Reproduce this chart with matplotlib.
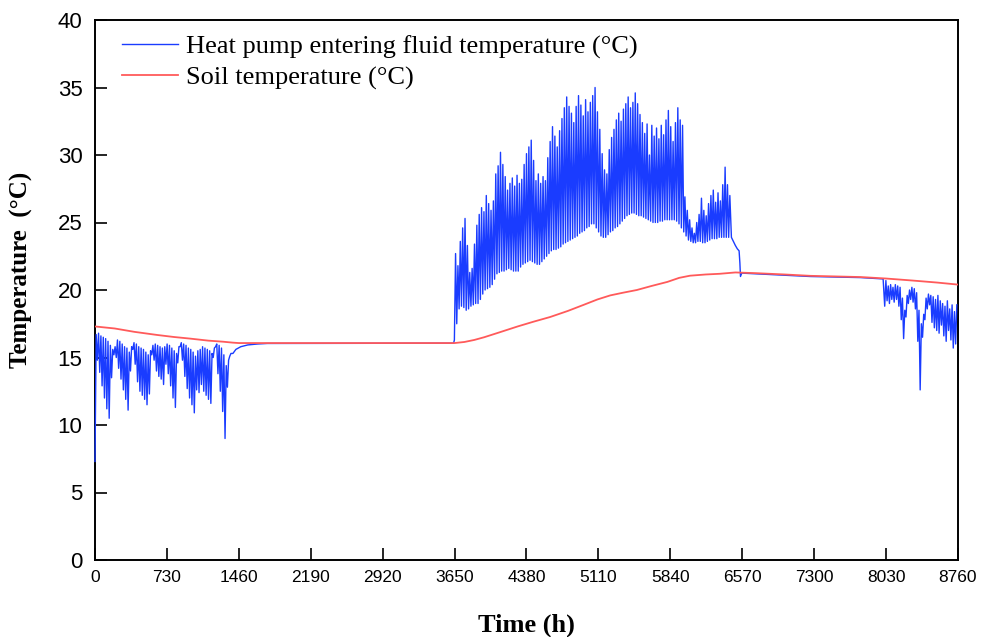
import numpy as np
import matplotlib
matplotlib.use('Agg')
import matplotlib.pyplot as plt
from matplotlib import font_manager

# soil temperature at selected hours of the year
soil_h = [0, 200, 400, 630, 800, 965, 1150, 1300, 1400, 1460, 3650, 3750, 3850,
          3950, 4100, 4290, 4450, 4620, 4800, 4960, 5100, 5230, 5360, 5500, 5650,
          5810, 5930, 6040, 6200, 6340, 6500, 6700, 7000, 7260, 7770, 8030, 8300,
          8550, 8760]
soil_t = [17.3, 17.15, 16.9, 16.67, 16.52, 16.4, 16.25, 16.17, 16.1, 16.07, 16.07, 16.15, 16.3,
          16.5, 16.85, 17.3, 17.65, 18.0, 18.45, 18.9, 19.3, 19.6, 19.8, 20.0, 20.3,
          20.6, 20.9, 21.06, 21.15, 21.2, 21.3, 21.25, 21.15, 21.05, 20.96, 20.85, 20.7,
          20.55, 20.4]

# heating season (from day 0): daily low / high of entering fluid temperature
heat_day0 = 0
heat_lo = [7.3, 14.8, 13.9, 12.9, 12.0, 11.2, 10.5, 13.5, 15.2, 15.0,
           14.2, 13.4, 12.6, 11.9, 11.1, 14.0, 15.6, 14.5, 13.2, 12.5,
           12.2, 11.9, 11.5, 12.3, 15.2, 14.8, 14.0, 13.6, 13.4, 13.0,
           14.5, 13.8, 12.9, 12.0, 11.3, 14.6, 15.8, 14.8, 13.6, 12.7,
           12.0, 11.5, 10.9, 12.6, 12.4, 13.0, 12.5, 12.2, 11.9, 11.6,
           15.0, 15.8, 13.8, 12.5, 11.0, 9.0, 12.8, 15.1]
heat_hi = [16.7, 16.8, 16.6, 16.5, 16.4, 16.2, 15.9, 15.6, 15.8, 16.3,
           16.2, 16.0, 15.8, 15.7, 15.4, 15.8, 16.1, 16.0, 15.8, 15.7,
           15.6, 15.4, 15.2, 15.5, 15.9, 16.0, 15.9, 15.8, 15.7, 15.8,
           16.0, 15.9, 15.7, 15.5, 15.3, 15.8, 16.1, 16.0, 15.9, 15.7,
           15.6, 15.4, 15.1, 15.5, 15.6, 15.8, 15.7, 15.6, 15.5, 15.3,
           15.7, 16.0, 15.9, 15.7, 15.2, 14.4, 14.8, 15.3]

# recovery after heating, idle until cooling starts
idle1_h = [1400, 1430, 1480, 1550, 1650, 1750, 3640]
idle1_t = [15.3, 15.6, 15.8, 15.93, 16.0, 16.04, 16.06]

# cooling season (from day 152): daily low / high
cool_day0 = 152
cool_lo = [16.3, 17.5, 18.6, 18.8, 18.7, 18.5, 18.6, 18.8, 18.9, 19.0,
           19.0, 19.3, 19.7, 20.0, 20.1, 20.2, 20.4, 20.8, 21.2, 21.3,
           21.4, 21.4, 21.5, 21.6, 21.5, 21.4, 21.4, 21.4, 21.7, 21.9,
           22.0, 22.1, 22.2, 22.1, 22.0, 21.9, 21.9, 22.1, 22.3, 22.5,
           22.7, 22.9, 23.0, 23.0, 23.1, 23.2, 23.4, 23.5, 23.6, 23.7,
           23.8, 23.9, 24.0, 24.2, 24.3, 24.4, 24.6, 24.7, 24.9, 24.9,
           24.6, 24.3, 24.0, 23.9, 23.9, 24.1, 24.3, 24.4, 24.6, 24.7,
           24.9, 25.1, 25.3, 25.5, 25.6, 25.7, 25.7, 25.6, 25.5, 25.5,
           25.4, 25.3, 25.2, 25.1, 25.0, 25.0, 25.0, 25.1, 25.1, 25.2,
           25.2, 25.2, 25.2, 25.2, 25.1, 24.9, 24.6, 24.3, 24.0, 23.7,
           23.6, 23.5, 23.5, 23.6, 23.6, 23.5, 23.5, 23.6, 23.7, 23.8,
           23.8, 23.8, 23.9, 23.9, 23.9, 23.9, 23.9]
cool_hi = [22.7, 21.8, 23.6, 24.6, 25.3, 23.3, 21.3, 21.6, 23.4, 24.8,
           25.6, 26.1, 25.8, 27.0, 26.4, 25.9, 26.6, 28.6, 29.2, 30.2,
           29.3, 28.4, 27.4, 27.9, 28.3, 27.7, 28.5, 27.9, 28.2, 29.3,
           30.1, 30.6, 31.1, 29.6, 28.1, 28.6, 27.9, 28.4, 28.1, 29.8,
           31.0, 32.1, 31.4, 30.6, 31.8, 32.7, 33.5, 34.3, 33.6, 33.1,
           32.4, 33.6, 34.4, 33.7, 32.9, 34.1, 33.2, 33.9, 34.4, 35.0,
           33.2, 31.9, 30.1, 28.9, 28.6, 30.4, 31.3, 31.9, 32.6, 33.1,
           32.5, 33.4, 33.8, 34.3, 33.5, 33.9, 34.6, 33.8, 33.0, 32.4,
           31.6, 32.3, 30.0, 32.2, 31.4, 32.0, 31.2, 32.2, 31.5, 32.6,
           33.3, 32.1, 31.0, 32.4, 33.5, 32.6, 32.2, 26.9, 25.9, 25.2,
           24.6, 24.2, 25.0, 25.6, 26.8, 25.9, 25.5, 26.4, 27.0, 27.4,
           26.5, 27.2, 26.6, 27.8, 29.1, 27.8, 27.0]

# end of cooling, idle until heating restarts
idle2_h = [6460, 6480, 6500, 6520, 6538, 6546, 6552, 6565, 7260, 7770, 8000]
idle2_t = [23.9, 23.6, 23.3, 23.05, 22.9, 22.0, 21.0, 21.25, 21.0, 20.92, 20.82]

# second heating season (from day 334)
heat2_day0 = 334
heat2_lo = [18.8, 19.2, 19.0, 19.3, 19.1, 19.3, 18.8, 17.8, 16.4, 18.0,
            19.0, 19.3, 19.1, 18.6, 16.2, 12.6, 16.5, 17.8, 18.6, 18.9,
            17.6, 17.2, 17.0, 16.8, 17.4, 16.6, 16.2, 17.0, 16.3, 15.7, 16.0]
heat2_hi = [20.7, 20.3, 20.4, 20.2, 20.4, 20.3, 20.2, 19.4, 18.5, 19.6,
            20.0, 20.2, 20.1, 19.8, 18.5, 17.5, 18.2, 19.4, 19.7, 19.6,
            19.5, 19.3, 19.6, 19.2, 19.0, 18.8, 19.2, 18.6, 18.9, 18.4, 18.9]

xticks = [0, 730, 1460, 2190, 2920, 3650, 4380, 5110, 5840, 6570, 7300, 8030, 8760]
yticks = [0, 5, 10, 15, 20, 25, 30, 35, 40]


def daily(day0, lo, hi):
    # low at start of the day, high at midday
    start = 24 * (day0 + np.arange(len(lo)))
    h = np.column_stack([start, start + 12]).ravel()
    t = np.column_stack([lo, hi]).ravel()
    return h, t


parts = [daily(heat_day0, heat_lo, heat_hi), (idle1_h, idle1_t),
         daily(cool_day0, cool_lo, cool_hi), (idle2_h, idle2_t),
         daily(heat2_day0, heat2_lo, heat2_hi)]
fluid_h = np.concatenate([np.asarray(p[0], float) for p in parts])
fluid_t = np.concatenate([np.asarray(p[1], float) for p in parts])

names = {f.name for f in font_manager.fontManager.ttflist}
narrow = 'Liberation Sans Narrow' if 'Liberation Sans Narrow' in names else 'Liberation Sans'

fig = plt.figure(figsize=(9.86, 6.37), dpi=100)
ax = fig.add_axes([95 / 986, 1 - 560 / 637, 863 / 986, 540 / 637])

ax.plot(fluid_h, fluid_t, color='#1a3cff', lw=1.0, clip_on=False,
        label='Heat pump entering fluid temperature (°C)', zorder=3)
ax.plot(soil_h, soil_t, color='#ff5a5a', lw=1.3,
        label='Soil temperature (°C)', zorder=4)

ax.set_xlim(0, 8760)
ax.set_ylim(0, 40)
ax.set_xticks(xticks)
ax.set_yticks(yticks)
ax.tick_params(direction='in', length=8.5, width=1.2, top=False, right=False)
ax.tick_params(axis='x', pad=7)
ax.tick_params(axis='y', pad=9)
for lab in ax.get_xticklabels():
    lab.set_fontfamily(narrow)
    lab.set_fontsize(12.5)
for lab in ax.get_yticklabels():
    lab.set_fontfamily('Liberation Sans')
    lab.set_fontsize(16)
for sp in ax.spines.values():
    sp.set_linewidth(1.4)

ax.set_xlabel('Time (h)', fontfamily='Liberation Serif', fontweight='bold', fontsize=19)
ax.set_ylabel('Temperature  (°C)', fontfamily='Liberation Serif', fontweight='bold', fontsize=18)
ax.xaxis.set_label_coords(0.5, -0.1)
ax.yaxis.set_label_coords(-0.072, 0.537)

ax.legend(loc='upper left', bbox_to_anchor=(0.031, 0.972), frameon=False,
          prop={'family': 'Liberation Serif', 'size': 19},
          handlelength=2.15, handletextpad=0.3, labelspacing=0.25,
          borderpad=0, borderaxespad=0)

fig.savefig('out.png', dpi=100)
